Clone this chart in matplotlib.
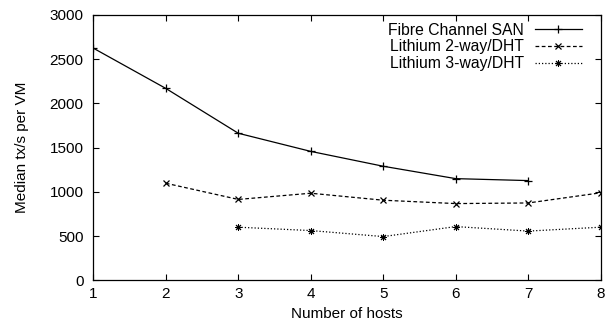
import matplotlib
matplotlib.use("Agg")
import matplotlib.pyplot as plt

plt.rcParams["font.family"] = ["Liberation Sans", "DejaVu Sans"]
plt.rcParams["font.size"] = 11

hosts_fc = [1, 2, 3, 4, 5, 6, 7]
fibre_channel = [2625, 2170, 1663, 1458, 1290, 1150, 1128]

hosts_2way = [2, 3, 4, 5, 6, 7, 8]
lithium_2way = [1098, 915, 985, 906, 868, 875, 990]

hosts_3way = [3, 4, 5, 6, 7, 8]
lithium_3way = [601, 563, 495, 608, 557, 601]

fig = plt.figure(figsize=(6.08, 3.26), dpi=100)
ax = fig.add_axes([0.1535, 0.14, 0.8345, 0.814])

ax.plot(hosts_fc, fibre_channel, color="black", lw=0.9, ls="-",
        marker="+", ms=6, mew=0.9, label="Fibre Channel SAN")
ax.plot(hosts_2way, lithium_2way, color="black", lw=0.9, ls=(0, (3, 2)),
        marker="x", ms=5, mew=0.9, label="Lithium 2-way/DHT")
ax.plot(hosts_3way, lithium_3way, color="black", lw=0.9, ls=(0, (1, 1.6)),
        marker=(8, 2, 0), ms=5, mew=0.7, label="Lithium 3-way/DHT")

ax.set_xlim(1, 8)
ax.set_ylim(0, 3000)
ax.set_xticks(range(1, 9))
ax.set_yticks(range(0, 3001, 500))
ax.tick_params(direction="in", top=True, right=True, length=4, width=0.8)
ax.tick_params(axis="y", pad=7)
ax.tick_params(axis="x", pad=5)
for s in ax.spines.values():
    s.set_linewidth(0.9)

ax.set_xlabel("Number of hosts", labelpad=4)
ax.set_ylabel("Median tx/s per VM", labelpad=15)

ax.legend(loc="upper right", bbox_to_anchor=(0.975, 0.995), frameon=False,
          markerfirst=False, handlelength=3.0, handletextpad=0.7,
          labelspacing=0.12, borderaxespad=0, borderpad=0.4, fontsize=11.3)

fig.savefig("out.png", dpi=100)
